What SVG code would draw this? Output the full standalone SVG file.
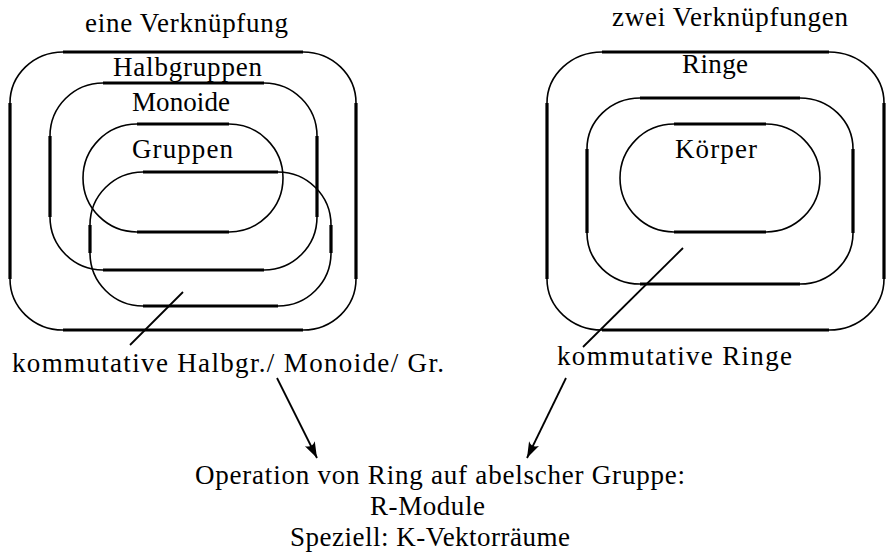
<svg xmlns="http://www.w3.org/2000/svg" width="886" height="552" viewBox="0 0 886 552">
<defs>
<style>
.c{fill:none;stroke:#000;stroke-width:1.6}
.t{stroke:#000;stroke-width:3.2;fill:none}
.l{stroke:#000;stroke-width:1.8;fill:none}
text{font-family:"Liberation Serif","Times New Roman",serif;font-size:27px;fill:#000}
</style>
<marker id="ah" markerUnits="userSpaceOnUse" markerWidth="20" markerHeight="14" viewBox="-17 -7 18 14" refX="0" refY="0" orient="auto">
<path d="M0,0 L-16,-5.5 Q-11,0 -16,5.5 Z" fill="#000"/>
</marker>
</defs>
<rect width="886" height="552" fill="#fff"/>

<g id="title-left"><text x="85" y="32" textLength="203">eine Verknüpfung</text></g>
<g id="title-right"><text x="612" y="26" textLength="236">zwei Verknüpfungen</text></g>

<g id="halbgruppen">
<rect class="c" x="10" y="52" width="346" height="278" rx="53" ry="51"/>
<path class="t" d="M63,52H303M63,330H303M10,103V279M356,103V279"/>
<text x="113" y="76" textLength="149">Halbgruppen</text>
</g>
<g id="monoide">
<rect class="c" x="50" y="83" width="267" height="187" rx="53" ry="53"/>
<path class="t" d="M103,83H264M103,270H264M50,136V217M317,136V217"/>
<text x="132" y="111" textLength="98">Monoide</text>
</g>
<g id="gruppen">
<rect class="c" x="83" y="124" width="200" height="108" rx="54" ry="54"/>
<path class="t" d="M137,124H229M137,232H229"/>
<text x="132" y="158" textLength="101">Gruppen</text>
</g>
<g id="kommutativ-links">
<rect class="c" x="90" y="172" width="241" height="134" rx="53" ry="53"/>
<path class="t" d="M143,172H278M143,306H278M90,225V253M331,225V253"/>
</g>

<g id="ringe">
<rect class="c" x="547" y="52" width="337" height="278" rx="55" ry="51"/>
<path class="t" d="M602,52H829M602,330H829M547,103V279M884,103V279"/>
<text x="682" y="73" textLength="66">Ringe</text>
</g>
<g id="kommutative-ringe-bereich">
<rect class="c" x="587" y="98" width="266" height="186" rx="53" ry="51"/>
<path class="t" d="M640,98H800M640,284H800M587,149V233M853,149V233"/>
</g>
<g id="koerper">
<rect class="c" x="620" y="124" width="200" height="108" rx="54" ry="54"/>
<path class="t" d="M674,124H766M674,232H766"/>
<text x="675" y="158" textLength="82">Körper</text>
</g>

<g id="label-komm-links"><text x="12" y="372" textLength="432">kommutative Halbgr./ Monoide/ Gr.</text></g>
<g id="label-komm-ringe"><text x="557" y="365" textLength="235">kommutative Ringe</text></g>
<g id="moduln">
<text x="195" y="484" textLength="490">Operation von Ring auf abelscher Gruppe:</text>
<text x="370" y="515" textLength="115">R-Module</text>
<text x="290" y="546" textLength="280">Speziell: K-Vektorräume</text>
</g>

<g id="connectors">
<line class="l" x1="183" y1="292" x2="130" y2="345"/>
<line class="l" x1="683" y1="248" x2="583" y2="347"/>
<line class="l" x1="277" y1="378" x2="317" y2="458" marker-end="url(#ah)"/>
<line class="l" x1="566" y1="378" x2="527" y2="458" marker-end="url(#ah)"/>
</g>
</svg>
